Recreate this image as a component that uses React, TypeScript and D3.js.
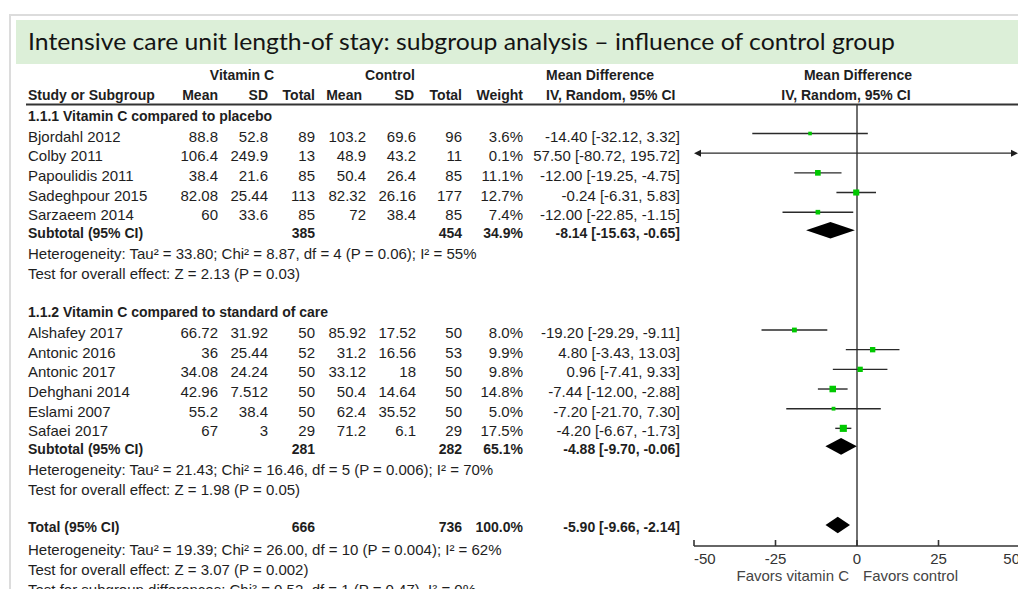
import React from 'react';
import * as d3 from 'd3';

// study level data
const studies = ['Bjordahl 2012', 'Colby 2011', 'Papoulidis 2011', 'Sadeghpour 2015', 'Sarzaeem 2014',
  'Alshafey 2017', 'Antonic 2016', 'Antonic 2017', 'Dehghani 2014', 'Eslami 2007', 'Safaei 2017'];
const studyGroup = [0, 0, 0, 0, 0, 1, 1, 1, 1, 1, 1];
const vitMean = [88.8, 106.4, 38.4, 82.08, 60, 66.72, 36, 34.08, 42.96, 55.2, 67];
const vitSD = [52.8, 249.9, 21.6, 25.44, 33.6, 31.92, 25.44, 24.24, 7.512, 38.4, 3];
const vitN = [89, 13, 85, 113, 85, 50, 52, 50, 50, 50, 29];
const ctlMean = [103.2, 48.9, 50.4, 82.32, 72, 85.92, 31.2, 33.12, 50.4, 62.4, 71.2];
const ctlSD = [69.6, 43.2, 26.4, 26.16, 38.4, 17.52, 16.56, 18, 14.64, 35.52, 6.1];
const ctlN = [96, 11, 85, 177, 85, 50, 53, 50, 50, 50, 29];
const weight = [3.6, 0.1, 11.1, 12.7, 7.4, 8.0, 9.9, 9.8, 14.8, 5.0, 17.5];
const md = [-14.40, 57.50, -12.00, -0.24, -12.00, -19.20, 4.80, 0.96, -7.44, -7.20, -4.20];
const ciLow = [-32.12, -80.72, -19.25, -6.31, -22.85, -29.29, -3.43, -7.41, -12.00, -21.70, -6.67];
const ciHigh = [3.32, 195.72, -4.75, 5.83, -1.15, -9.11, 13.03, 9.33, -2.88, 7.30, -1.73];

// subgroups
const groupTitles = ['1.1.1 Vitamin C compared to placebo', '1.1.2 Vitamin C compared to standard of care'];
const groupVitN = [385, 281];
const groupCtlN = [454, 282];
const groupWeight = [34.9, 65.1];
const groupMd = [-8.14, -4.88];
const groupLow = [-15.63, -9.70];
const groupHigh = [-0.65, -0.06];
const groupHet = [
  'Heterogeneity: Tau² = 33.80; Chi² = 8.87, df = 4 (P = 0.06); I² = 55%',
  'Heterogeneity: Tau² = 21.43; Chi² = 16.46, df = 5 (P = 0.006); I² = 70%',
];
const groupTest = ['Test for overall effect: Z = 2.13 (P = 0.03)', 'Test for overall effect: Z = 1.98 (P = 0.05)'];

// overall
const totalVitN = 666;
const totalCtlN = 736;
const totalWeight = 100.0;
const totalMd = -5.90;
const totalLow = -9.66;
const totalHigh = -2.14;
const totalNotes = [
  'Heterogeneity: Tau² = 19.39; Chi² = 26.00, df = 10 (P = 0.004); I² = 62%',
  'Test for overall effect: Z = 3.07 (P = 0.002)',
  'Test for subgroup differences: Chi² = 0.52, df = 1 (P = 0.47), I² = 0%',
];

const axisTicks = [-50, -25, 0, 25, 50];
const title = 'Intensive care unit length-of stay: subgroup analysis \u2013 influence of control group';

const W = 1018;
const H = 589;
const FONT = '"Liberation Sans", Arial, sans-serif';
const INK = '#1e1e1e';

const fmtCI = (m: number, l: number, h: number) => `${m.toFixed(2)} [${l.toFixed(2)}, ${h.toFixed(2)}]`;

// right edges of the numeric columns
const colRight = { vm: 218, vs: 268, vn: 315, cm: 366, cs: 416, cn: 462, w: 523, ci: 680 };

export default function App() {
  const x = d3.scaleLinear().domain([-50, 50]).range([694, 1020]);
  const plotL = x(-50);
  const plotR = x(50);
  const axisY = 546;

  // vertical layout of the rows (baselines)
  const groupHeaderY = [120.5, 317];
  const rowStep = 19.67;
  const rows: { i: number; y: number }[] = [];
  const groupY: { sub: number; het: number; test: number }[] = [];
  [0, 1].forEach(g => {
    const idx = studies.map((_, i) => i).filter(i => studyGroup[i] === g);
    idx.forEach((i, k) => rows.push({ i, y: groupHeaderY[g] + 21 + rowStep * k }));
    const last = groupHeaderY[g] + 21 + rowStep * (idx.length - 1);
    const sub = last + 17.5;
    groupY.push({ sub, het: sub + 21.5, test: sub + 41.5 });
  });
  const totalY = 532;
  const totalNoteY = [555, 575, 595];

  // square side grows with the study weight
  const side = (w: number) => Math.max(3.6, 1.7 * Math.sqrt(w));

  const diamond = (m: number, l: number, h: number, cy: number) => {
    const p = d3.path();
    p.moveTo(x(l), cy);
    p.lineTo(x(m), cy - 8.3);
    p.lineTo(x(h), cy);
    p.lineTo(x(m), cy + 8.3);
    p.closePath();
    return p.toString();
  };

  const numCells = (y: number, vals: (string | number)[], keys: (keyof typeof colRight)[], bold = false) =>
    vals.map((v, k) => (
      <text key={keys[k]} x={colRight[keys[k]]} y={y} textAnchor="end" fontWeight={bold ? 'bold' : 'normal'}
        fontSize={bold ? 14 : 15}>{v}</text>
    ));

  return (
    <svg width={W} height={H} style={{ position: 'absolute', left: 0, top: 0, background: '#fff' }}
      fontFamily={FONT} fill={INK}>
      {/* slide frame */}
      <rect x={9} y={14} width={W - 9} height={2} fill="#dcdcdc" />
      <rect x={9} y={14} width={2} height={H - 14} fill="#dcdcdc" />
      <rect x={16} y={20} width={W - 16} height={44} fill="#dcefd8" />
      <text x={28} y={50} fontFamily='Lato, "Open Sans", sans-serif' fontSize={24} fill="#141414"
        textLength={867} lengthAdjust="spacingAndGlyphs">{title}</text>

      {/* column headers */}
      <g fontWeight="bold" fontSize={14}>
        <text x={242} y={80} textAnchor="middle">Vitamin C</text>
        <text x={390} y={80} textAnchor="middle">Control</text>
        <text x={546} y={80}>Mean Difference</text>
        <text x={858} y={80} textAnchor="middle">Mean Difference</text>
        <text x={28} y={100}>Study or Subgroup</text>
        <text x={colRight.vm} y={100} textAnchor="end">Mean</text>
        <text x={colRight.vs} y={100} textAnchor="end">SD</text>
        <text x={colRight.vn} y={100} textAnchor="end">Total</text>
        <text x={colRight.cm - 4} y={100} textAnchor="end">Mean</text>
        <text x={colRight.cs - 2} y={100} textAnchor="end">SD</text>
        <text x={colRight.cn} y={100} textAnchor="end">Total</text>
        <text x={colRight.w} y={100} textAnchor="end">Weight</text>
        <text x={546} y={100}>IV, Random, 95% CI</text>
        <text x={846} y={100} textAnchor="middle">IV, Random, 95% CI</text>
      </g>
      <line x1={26} x2={W} y1={104.5} y2={104.5} stroke="#333" strokeWidth={2} />

      {/* zero line */}
      <line x1={x(0)} x2={x(0)} y1={105} y2={axisY} stroke="#333" strokeWidth={1.4} />

      {/* subgroup headers */}
      {groupTitles.map((t, g) => (
        <text key={t} x={28} y={groupHeaderY[g]} fontWeight="bold" fontSize={14}>{t}</text>
      ))}

      {/* study rows */}
      {rows.map(({ i, y }) => {
        const cy = y - 8;
        const l = Math.max(ciLow[i], -50);
        const h = Math.min(ciHigh[i], 50);
        const s = side(weight[i]);
        return (
          <g key={studies[i]}>
            <text x={28} y={y} fontSize={15}>{studies[i]}</text>
            {numCells(y, [vitMean[i], vitSD[i], vitN[i], ctlMean[i], ctlSD[i], ctlN[i], `${weight[i].toFixed(1)}%`,
              fmtCI(md[i], ciLow[i], ciHigh[i])], ['vm', 'vs', 'vn', 'cm', 'cs', 'cn', 'w', 'ci'])}
            <line x1={x(l) + (ciLow[i] < -50 ? 5 : 0)} x2={x(h) - (ciHigh[i] > 50 ? 5 : 0)} y1={cy} y2={cy}
              stroke="#2a2a2a" strokeWidth={1.4} />
            {ciLow[i] < -50 && (
              <path d={`M${x(-50)},${cy} l7,-3.5 l0,7 z`} fill="#1e1e1e" />
            )}
            {ciHigh[i] > 50 && (
              <path d={`M${x(50) - 2},${cy} l-7,-3.5 l0,7 z`} fill="#1e1e1e" />
            )}
            {md[i] >= -50 && md[i] <= 50 && (
              <rect x={x(md[i]) - s / 2} y={cy - s / 2} width={s} height={s} fill="#00c800" />
            )}
          </g>
        );
      })}

      {/* subtotals */}
      {groupY.map((gy, g) => (
        <g key={`sub${g}`}>
          <text x={28} y={gy.sub} fontWeight="bold" fontSize={14}>Subtotal (95% CI)</text>
          {numCells(gy.sub, [groupVitN[g], groupCtlN[g], `${groupWeight[g].toFixed(1)}%`,
            fmtCI(groupMd[g], groupLow[g], groupHigh[g])], ['vn', 'cn', 'w', 'ci'], true)}
          <path d={diamond(groupMd[g], groupLow[g], groupHigh[g], gy.sub - 7.5)} fill="#000" />
          <text x={28} y={gy.het} fontSize={15}>{groupHet[g]}</text>
          <text x={28} y={gy.test} fontSize={15}>{groupTest[g]}</text>
        </g>
      ))}

      {/* total */}
      <text x={28} y={totalY} fontWeight="bold" fontSize={14}>Total (95% CI)</text>
      {numCells(totalY, [totalVitN, totalCtlN, `${totalWeight.toFixed(1)}%`, fmtCI(totalMd, totalLow, totalHigh)],
        ['vn', 'cn', 'w', 'ci'], true)}
      <path d={diamond(totalMd, totalLow, totalHigh, totalY - 7)} fill="#000" />
      {totalNotes.map((t, k) => (
        <text key={t} x={28} y={totalNoteY[k]} fontSize={15}>{t}</text>
      ))}

      {/* axis */}
      <line x1={plotL} x2={plotR} y1={axisY} y2={axisY} stroke="#333" strokeWidth={1.6} />
      {axisTicks.map((t, k) => (
        <g key={t}>
          <line x1={x(t)} x2={x(t)} y1={axisY - 6} y2={axisY} stroke="#333" strokeWidth={1.6} />
          <text x={x(t)} y={564} fontSize={15} fill="#333"
            textAnchor={k === 0 ? 'start' : k === axisTicks.length - 1 ? 'end' : 'middle'}>{t}</text>
        </g>
      ))}
      <text x={x(0) - 8} y={580.5} fontSize={15} fill="#444" textAnchor="end">Favors vitamin C</text>
      <text x={x(0) + 6} y={580.5} fontSize={15} fill="#444">Favors control</text>
    </svg>
  );
}
